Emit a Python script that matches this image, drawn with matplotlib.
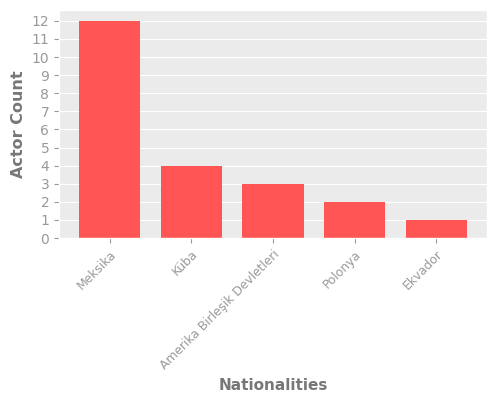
import matplotlib
matplotlib.use("Agg")
from matplotlib import pyplot as plt
import numpy as np

plt.style.use("ggplot")

# Data
countries = ["Meksika", "Küba", "Amerika Birleşik Devletleri", "Polonya", "Ekvador"]
counts = [12, 4, 3, 2, 1]

fig = plt.figure(figsize=(5, 4), dpi=100)
ax = fig.add_axes([0.118, 0.405, 0.856, 0.57])
ax.set_facecolor("#EBEBEB")

x = np.arange(len(countries))
ax.bar(x, counts, width=0.75, color="#FF5555")

ax.set_xticks(x)
ax.set_xticklabels(countries, rotation=45, ha="right", rotation_mode="anchor",
                   color="#888888", fontsize=8.8)
ax.set_yticks(range(0, 13))
ax.tick_params(axis="y", labelcolor="#888888", labelsize=10)
ax.tick_params(colors="#999999")
ax.set_ylim(0, 12.6)
ax.set_xlim(-0.62, 4.62)

ax.set_xlabel("Nationalities", fontsize=11, fontweight="bold", color="#777777")
ax.xaxis.set_label_coords(0.5, -0.615)
ax.set_ylabel("Actor Count", fontsize=11.5, fontweight="bold", color="#777777")
ax.grid(axis="x", visible=False)

fig.savefig("out.png", dpi=100)
